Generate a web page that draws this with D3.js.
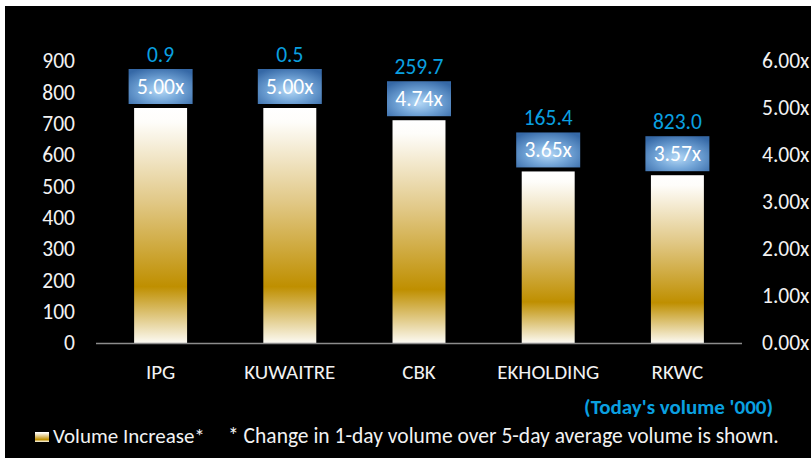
<!DOCTYPE html>
<head>
    <meta charset="utf-8">
    <title>Volume increase</title>
    <style>
        body { margin: 0; background: #fff; }
        text { font-family: Carlito, Lato, sans-serif; }
    </style>
</head>
<body>

<script src="https://cdn.jsdelivr.net/npm/d3@7/dist/d3.min.js"></script>

<script>

    // data
    const tickers = ['IPG', 'KUWAITRE', 'CBK', 'EKHOLDING', 'RKWC'];
    const ratios = [5.00, 5.00, 4.74, 3.65, 3.57];
    const volumes = [0.9, 0.5, 259.7, 165.4, 823.0];
    const leftTicks = [0, 100, 200, 300, 400, 500, 600, 700, 800, 900];
    const rightTicks = [0, 1, 2, 3, 4, 5, 6];

    const W = 811, H = 458;
    const margin = {top: 61, right: 69, bottom: 115, left: 96};
    const width = W - margin.left - margin.right;
    const height = H - margin.top - margin.bottom;

    const x = d3.scaleBand()
        .domain(tickers)
        .range([0, width])
        .paddingInner(0.59)
        .paddingOuter(0.295);

    const yLeft = d3.scaleLinear()
        .domain([0, 900])
        .range([height, 0]);

    const yRight = d3.scaleLinear()
        .domain([0, 6])
        .range([height, 0]);

    const svgRoot = d3.select('body').append('svg')
        .attr('width', W)
        .attr('height', H);

    const defs = svgRoot.append('defs');

    const gold = defs.append('linearGradient')
        .attr('id', 'gold')
        .attr('x1', 0).attr('y1', 0).attr('x2', 0).attr('y2', 1);
    [[0, '#ffffff'], [0.06, '#fefdfa'], [0.4, '#e1c886'], [0.76, '#bf8f00'], [1, '#fcfaf3']]
        .forEach(s => gold.append('stop').attr('offset', s[0]).attr('stop-color', s[1]));

    const blue = defs.append('radialGradient')
        .attr('id', 'blue')
        .attr('cx', '50%').attr('cy', '62%').attr('r', '70%');
    [[0, '#b4d8f6'], [0.45, '#74a6d8'], [1, '#3568a6']]
        .forEach(s => blue.append('stop').attr('offset', s[0]).attr('stop-color', s[1]));

    svgRoot.append('rect')
        .attr('x', 5).attr('y', 6)
        .attr('width', W - 5).attr('height', H - 6)
        .attr('fill', '#000');

    const svg = svgRoot.append('g')
        .attr('transform', 'translate(' + margin.left + ',' + margin.top + ')');

    // axes
    const leftAxis = svg.append('g')
        .call(d3.axisLeft(yLeft).tickValues(leftTicks).tickSize(0).tickPadding(21));
    const rightAxis = svg.append('g')
        .attr('transform', 'translate(' + width + ',0)')
        .call(d3.axisRight(yRight).tickValues(rightTicks).tickSize(0).tickPadding(20)
            .tickFormat(d => d3.format('.2f')(d) + 'x'));

    [leftAxis, rightAxis].forEach(g => {
        g.select('.domain').remove();
        g.selectAll('text')
            .attr('fill', '#f2f2f2')
            .style('font-size', '21.5px')
            .style('font-family', 'Carlito, Lato, sans-serif');
    });

    // bars
    const bars = svg.selectAll('.bar')
        .data(tickers)
        .enter().append('g')
        .attr('class', 'bar');

    bars.append('rect')
        .attr('x', d => x(d))
        .attr('y', (d, i) => yRight(ratios[i]))
        .attr('width', x.bandwidth())
        .attr('height', (d, i) => height - yRight(ratios[i]))
        .attr('fill', 'url(#gold)');

    // baseline
    svg.append('line')
        .attr('x1', 0).attr('x2', width)
        .attr('y1', yRight(0) + 0.5).attr('y2', yRight(0) + 0.5)
        .attr('stroke', '#8c8c8c')
        .attr('stroke-width', 1.5);

    // ratio boxes
    const boxW = 64, boxH = 35;
    bars.append('rect')
        .attr('x', d => x(d) + x.bandwidth() / 2 - boxW / 2)
        .attr('y', (d, i) => yRight(ratios[i]) - 4 - boxH)
        .attr('width', boxW)
        .attr('height', boxH)
        .attr('fill', 'url(#blue)');

    bars.append('text')
        .attr('x', d => x(d) + x.bandwidth() / 2)
        .attr('y', (d, i) => yRight(ratios[i]) - 4 - boxH / 2 + 7)
        .attr('text-anchor', 'middle')
        .attr('fill', '#ffffff')
        .style('font-size', '21.5px')
        .text((d, i) => d3.format('.2f')(ratios[i]) + 'x');

    bars.append('text')
        .attr('x', d => x(d) + x.bandwidth() / 2)
        .attr('y', (d, i) => yRight(ratios[i]) - 4 - boxH - 7)
        .attr('text-anchor', 'middle')
        .attr('fill', '#0aa0e0')
        .style('font-size', '21.5px')
        .text((d, i) => d3.format('.1f')(volumes[i]));

    // category labels
    bars.append('text')
        .attr('x', d => x(d) + x.bandwidth() / 2)
        .attr('y', height + 36)
        .attr('text-anchor', 'middle')
        .attr('fill', '#f2f2f2')
        .style('font-size', '21px')
        .text(d => d);

    // unit note
    svgRoot.append('text')
        .attr('x', 773)
        .attr('y', 414)
        .attr('text-anchor', 'end')
        .attr('fill', '#0aa0e0')
        .style('font-size', '21px')
        .style('font-weight', 'bold')
        .text("(Today's volume '000)");

    // legend
    svgRoot.append('rect')
        .attr('x', 35).attr('y', 432)
        .attr('width', 14).attr('height', 10)
        .attr('fill', 'url(#gold)');

    svgRoot.append('text')
        .attr('x', 53).attr('y', 443)
        .attr('fill', '#f2f2f2')
        .style('font-size', '21px')
        .text('Volume Increase*');

    svgRoot.append('text')
        .attr('x', 228).attr('y', 443)
        .attr('fill', '#f2f2f2')
        .style('font-size', '21.5px')
        .text('* Change in 1-day volume over 5-day average volume is shown.');

</script>

</body>
